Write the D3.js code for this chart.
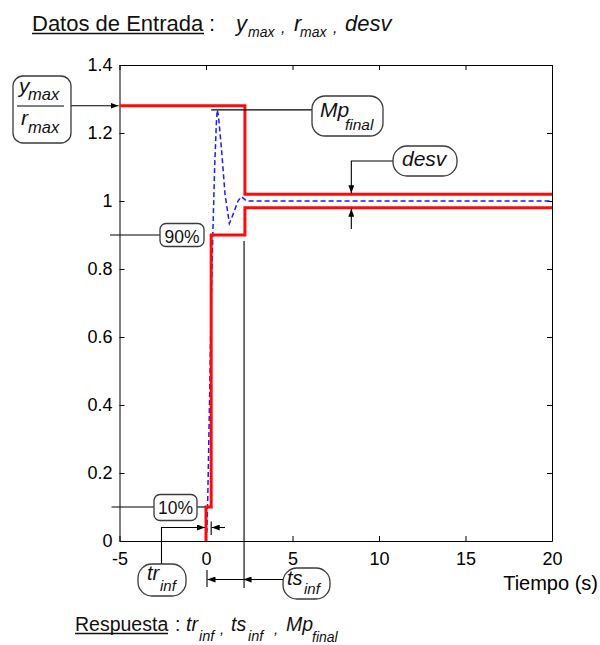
<!DOCTYPE html>
<html>
<head>
<meta charset="utf-8">
<script src="https://cdn.jsdelivr.net/npm/d3@7/dist/d3.min.js"></script>
<style>
  html, body { margin: 0; padding: 0; background: #fff; }
  svg { display: block; font-family: "Liberation Sans", Arial, sans-serif; }
</style>
</head>
<body>
<svg id="chart" width="600" height="645"></svg>
<script>
// Axis ticks
const timeTicks = [-5, 0, 5, 10, 15, 20];
const levelTicks = [0, 0.2, 0.4, 0.6, 0.8, 1, 1.2, 1.4];

// Step response (blue dashed)
const respTime  = [0, 0.05, 0.1, 0.2, 0.3, 0.4, 0.5, 0.6, 0.65, 0.72, 0.9, 1.1, 1.35, 1.6, 1.85, 2.05, 2.35, 2.6, 20];
const respValue = [0, 0.03, 0.12, 0.4, 0.7, 0.91, 1.1, 1.23, 1.268, 1.25, 1.15, 1.02, 0.934, 0.965, 1.0, 1.013, 1.0, 1.0, 1.0];

// Specification envelope (red)
const upperTime  = [-5, 2.25, 2.25, 20];
const upperValue = [1.28, 1.28, 1.02, 1.02];
const lowerTime  = [0, 0, 0.3, 0.3, 2.25, 2.25, 20];
const lowerValue = [0, 0.1, 0.1, 0.9, 0.9, 0.98, 0.98];

// Annotated quantities
const ratioMax = 1.28;   // y_max / r_max
const riseLow = 0.1;     // 10 %
const riseHigh = 0.9;    // 90 %
const trInf = 0.3;
const tsInf = 2.2;
const desvBand = [0.98, 1.02];
const desvAt = 8.4;

const svg = d3.select("#chart");
const x = d3.scaleLinear().domain([-5, 20]).range([119.5, 552]);
const y = d3.scaleLinear().domain([0, 1.4]).range([541, 65]);

// Arrowhead marker
svg.append("defs").append("marker")
  .attr("id", "arr")
  .attr("viewBox", "0 0 8 6")
  .attr("refX", 8).attr("refY", 3)
  .attr("markerWidth", 8).attr("markerHeight", 6)
  .attr("markerUnits", "userSpaceOnUse")
  .attr("orient", "auto")
  .append("path").attr("d", "M0,0 L8,3 L0,6 Z").attr("fill", "#000");

// Frame and axes (inward ticks on all four sides)
const axisG = svg.append("g");
const fmt = d => String(d);
axisG.append("g").attr("transform", `translate(0,${y(0)})`)
  .call(d3.axisBottom(x).tickValues(timeTicks).tickFormat(fmt).tickSizeInner(-5).tickSizeOuter(0).tickPadding(11));
axisG.append("g").attr("transform", `translate(0,${y(1.4)})`)
  .call(d3.axisTop(x).tickValues(timeTicks).tickFormat("").tickSizeInner(-5).tickSizeOuter(0));
axisG.append("g").attr("transform", `translate(${x(-5)},0)`)
  .call(d3.axisLeft(y).tickValues(levelTicks).tickFormat(fmt).tickSizeInner(-5).tickSizeOuter(0).tickPadding(7));
axisG.append("g").attr("transform", `translate(${x(20)},0)`)
  .call(d3.axisRight(y).tickValues(levelTicks).tickFormat("").tickSizeInner(-5).tickSizeOuter(0));
axisG.selectAll("text").attr("font-size", 18).attr("fill", "#000").attr("font-family", "Liberation Sans, Arial, sans-serif");
axisG.selectAll("path.domain, line").attr("stroke", "#000").attr("stroke-width", 1);

svg.append("text").attr("x", 598).attr("y", 590).attr("text-anchor", "end")
  .attr("font-size", 20).text("Tiempo (s)");

const line = d3.line().x(d => x(d[0])).y(d => y(d[1]));

// Step response
svg.append("path")
  .datum(d3.zip(respTime, respValue))
  .attr("d", line)
  .attr("fill", "none").attr("stroke", "#1a1aff").attr("stroke-width", 1.5)
  .attr("stroke-dasharray", "5,3");

// Envelope
[[upperTime, upperValue], [lowerTime, lowerValue]].forEach(([t, v]) => {
  svg.append("path")
    .datum(d3.zip(t, v))
    .attr("d", line)
    .attr("fill", "none").attr("stroke", "#ff0a0a").attr("stroke-width", 3);
});

// Annotation helpers
const ann = svg.append("g").attr("stroke", "#000").attr("stroke-width", 1.1).attr("fill", "none");
function seg(points, arrow) {
  const p = ann.append("path").attr("d", d3.line()(points));
  if (arrow) p.attr("marker-end", "url(#arr)");
  return p;
}
function box(bx, by, w, h, r) {
  svg.append("rect").attr("x", bx).attr("y", by).attr("width", w).attr("height", h)
    .attr("rx", r).attr("ry", r)
    .attr("fill", "#fff").attr("stroke", "#3a3a3a").attr("stroke-width", 1.3);
}
function txt(tx, ty, s, size, italic, anchor) {
  const t = svg.append("text").attr("x", tx).attr("y", ty)
    .attr("font-size", size).attr("fill", "#111").text(s);
  if (italic) t.attr("font-style", "italic");
  if (anchor) t.attr("text-anchor", anchor);
  return t;
}

// y_max / r_max
seg([[71, y(ratioMax)], [x(-5) - 1, y(ratioMax)]], true);
box(13, 76, 58, 67, 10);
svg.append("line").attr("x1", 17).attr("x2", 64).attr("y1", 106).attr("y2", 106)
  .attr("stroke", "#000").attr("stroke-width", 1.1);
txt(19, 93, "y", 21, true);
txt(28, 100, "max", 16.5, true);
txt(21, 125, "r", 21, true);
txt(28, 133, "max", 16.5, true);

// Mp_final
const peak = d3.max(respValue);
seg([[x(trInf), y(peak)], [312, y(peak)]]);
box(312, 96, 71, 40, 13);
txt(320, 117, "Mp", 21, true);
txt(345, 130, "final", 15.5, true);

// desv
seg([[393, 161], [x(desvAt), 161], [x(desvAt), y(desvBand[1]) - 1]], true);
seg([[x(desvAt), 229], [x(desvAt), y(desvBand[0]) + 1]], true);
box(393, 146, 64, 30, 14);
txt(402, 166, "desv", 21, true);

// 90 %
seg([[110, y(riseHigh)], [160, y(riseHigh)]]);
box(160, 223.5, 44, 23, 6);
txt(182, 242.5, "90%", 17.5, false, "middle");

// 10 %
seg([[111.5, y(riseLow)], [154, y(riseLow)]]);
seg([[197, y(riseLow)], [x(0) - 1, y(riseLow)]]);
box(154, 494.5, 43, 26, 6);
txt(175.5, 514, "10%", 17.5, false, "middle");

// tr_inf
seg([[161.5, 564], [161.5, 527.5], [x(0) - 1, 527.5]], true);
seg([[225, 527.5], [x(trInf) + 0.5, 527.5]], true);
seg([[x(trInf), 521.5], [x(trInf), 535]]);
box(138, 564, 48, 32, 14);
txt(147, 580, "tr", 20, true);
txt(160, 591, "inf", 15, true);

// ts_inf
seg([[x(tsInf), y(riseHigh) + 6], [x(tsInf), 588]]);
seg([[x(0) + 1, 570], [x(0) + 1, 587]]);
seg([[283, 579.5], [x(tsInf) - 0.5, 579.5]], true);
seg([[x(tsInf), 579.5], [x(0) + 1.5, 579.5]], true);
box(283, 568, 47, 31, 14);
txt(287, 585, "ts", 20, true);
txt(304, 594, "inf", 15, true);

// Header: input data
txt(32, 31, "Datos de Entrada", 22, false);
svg.append("line").attr("x1", 32).attr("x2", 204).attr("y1", 33.5).attr("y2", 33.5)
  .attr("stroke", "#111").attr("stroke-width", 1.3);
txt(209, 31, ":", 22, false);
txt(236, 31, "y", 22, true);
txt(248, 37, "max", 14, true);
txt(281, 33, ",", 16, true);
txt(294, 31, "r", 22, true);
txt(300, 37, "max", 14, true);
txt(333, 33, ",", 16, true);
txt(345, 31, "desv", 22, true);

// Footer: response
txt(75, 631, "Respuesta", 19.5, false);
svg.append("line").attr("x1", 75).attr("x2", 168).attr("y1", 633.5).attr("y2", 633.5)
  .attr("stroke", "#111").attr("stroke-width", 1.3);
txt(175, 631, ":", 19.5, false);
txt(186, 631, "tr", 19.5, true);
txt(199, 641, "inf", 14.5, true);
txt(220, 634, ",", 15, true);
txt(231, 631, "ts", 19.5, true);
txt(248, 641, "inf", 14.5, true);
txt(274, 634, ",", 15, true);
txt(286, 631, "Mp", 19.5, true);
txt(312, 642, "final", 14, true);
</script>
</body>
</html>
